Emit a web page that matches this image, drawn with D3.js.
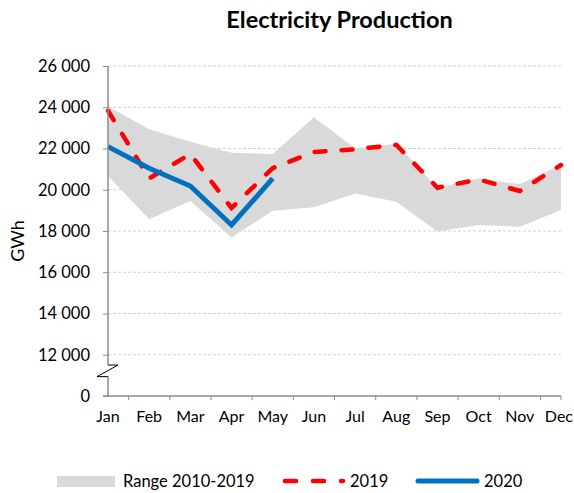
<!DOCTYPE html>
<html><head><meta charset="utf-8">
<script src="https://cdn.jsdelivr.net/npm/d3@7"></script>
<style>
html,body{margin:0;padding:0;background:#fff;}
svg{display:block;font-family:Lato,"Open Sans",sans-serif;}
</style></head>
<body><svg id="c" width="574" height="493"></svg>
<script>
const months = ["Jan","Feb","Mar","Apr","May","Jun","Jul","Aug","Sep","Oct","Nov","Dec"];
const rangeHigh = [24050,22930,22330,21800,21730,23510,22010,22230,20100,20550,20280,21200];
const rangeLow  = [20670,18570,19450,17690,18980,19150,19820,19420,17970,18290,18210,19020];
const v2019 = [23830,20550,21730,19120,21050,21830,21960,22180,20100,20500,19940,21200];
const v2020 = [22090,21040,20180,18290,20550];
const yTickValues = [10000,12000,14000,16000,18000,20000,22000,24000,26000];
const yTickLabels = ["0","12 000","14 000","16 000","18 000","20 000","22 000","24 000","26 000"];
const title = "Electricity Production";
const yTitle = "GWh";
const legendLabels = ["Range 2010-2019","2019","2020"];

const svg = d3.select("#c");
const x = d3.scalePoint().domain(months).range([108, 561]);
const y = d3.scaleLinear().domain([10000, 26000]).range([396, 66]);
const axisCol = "#8c8c8c";
const fs = 16.5;

// gridlines
svg.append("g").selectAll("line").data(yTickValues.filter(v => v > 10000)).join("line")
  .attr("x1", 108).attr("x2", 561).attr("y1", d => y(d)).attr("y2", d => y(d))
  .attr("stroke", "#d0d0d0").attr("stroke-width", 1).attr("stroke-dasharray", "3 2");

// range area
const area = d3.area().x((d, i) => x(months[i])).y0((d, i) => y(rangeLow[i])).y1(d => y(d));
svg.append("path").datum(rangeHigh).attr("d", area).attr("fill", "#d9d9d9");

// 2019 line
const line = d3.line().x((d, i) => x(months[i])).y(d => y(d));
svg.append("path").datum(v2019).attr("d", line).attr("fill", "none")
  .attr("stroke", "#ff0000").attr("stroke-width", 4.5)
  .attr("stroke-dasharray", "11 16").attr("stroke-linecap", "round");

// 2020 line
svg.append("path").datum(v2020).attr("d", line).attr("fill", "none")
  .attr("stroke", "#0070c0").attr("stroke-width", 5).attr("stroke-linejoin", "miter");

// y axis
const yAxis = d3.axisLeft(y).tickValues(yTickValues).tickSize(5).tickPadding(13)
  .tickFormat((d, i) => yTickLabels[i]);
const gy = svg.append("g").attr("transform", "translate(108,0)").call(yAxis);
gy.select(".domain").remove();
gy.selectAll(".tick line").attr("stroke", axisCol);
gy.selectAll(".tick text").attr("font-size", fs).attr("fill", "#000")
  .attr("font-family", "Lato,'Open Sans',sans-serif");

// y axis line with break
const bTop = y(11500), bBot = y(10940);
svg.append("path")
  .attr("d", `M108,${y(26000)}V${bTop}`)
  .attr("stroke", axisCol).attr("stroke-width", 1.5).attr("fill", "none");
svg.append("path")
  .attr("d", `M108,${bBot}V${y(10000)}`)
  .attr("stroke", axisCol).attr("stroke-width", 1.5).attr("fill", "none");
svg.append("path")
  .attr("d", `M108,${bTop}H118L97,${bBot}H108`)
  .attr("stroke", "#000").attr("stroke-width", 1).attr("fill", "none");

// x axis
svg.append("line").attr("x1", 103).attr("x2", 561).attr("y1", y(10000)).attr("y2", y(10000))
  .attr("stroke", axisCol).attr("stroke-width", 1.5);
const step = x.step();
const xt = months.slice(0, 11).map(m => x(m) + step / 2).concat([x("Dec")]);
svg.append("g").selectAll("line").data(xt).join("line")
  .attr("x1", d => d).attr("x2", d => d).attr("y1", y(10000)).attr("y2", y(10000) + 4)
  .attr("stroke", axisCol).attr("stroke-width", 1);
svg.append("g").selectAll("text").data(months).join("text")
  .attr("x", d => x(d)).attr("y", 422).attr("text-anchor", "middle")
  .attr("font-size", 16).text(d => d)
  .each(function(d) {
    const w = this.getComputedTextLength();
    if (x(d) + w / 2 > 573) d3.select(this).attr("x", 573 - w / 2);
  });

// titles
svg.append("text").attr("x", 339.5).attr("y", 28).attr("text-anchor", "middle")
  .attr("font-size", 23.5).attr("font-weight", "bold").text(title);
svg.append("text").attr("transform", "translate(24,241) rotate(-90)")
  .attr("text-anchor", "middle").attr("font-size", 18).text(yTitle);

// legend
const lg = svg.append("g");
lg.append("rect").attr("x", 57).attr("y", 476).attr("width", 58).attr("height", 11).attr("fill", "#d9d9d9");
lg.append("text").attr("x", 123).attr("y", 487).attr("font-size", fs).text(legendLabels[0]);
lg.append("line").attr("x1", 285).attr("x2", 343).attr("y1", 481).attr("y2", 481)
  .attr("stroke", "#ff0000").attr("stroke-width", 4.5).attr("stroke-dasharray", "11 17")
  .attr("stroke-linecap", "round");
lg.append("text").attr("x", 350).attr("y", 487).attr("font-size", fs).text(legendLabels[1]);
lg.append("line").attr("x1", 418).attr("x2", 477).attr("y1", 481).attr("y2", 481)
  .attr("stroke", "#0070c0").attr("stroke-width", 5).attr("stroke-linecap", "round");
lg.append("text").attr("x", 484).attr("y", 487).attr("font-size", fs).text(legendLabels[2]);
</script></body></html>
